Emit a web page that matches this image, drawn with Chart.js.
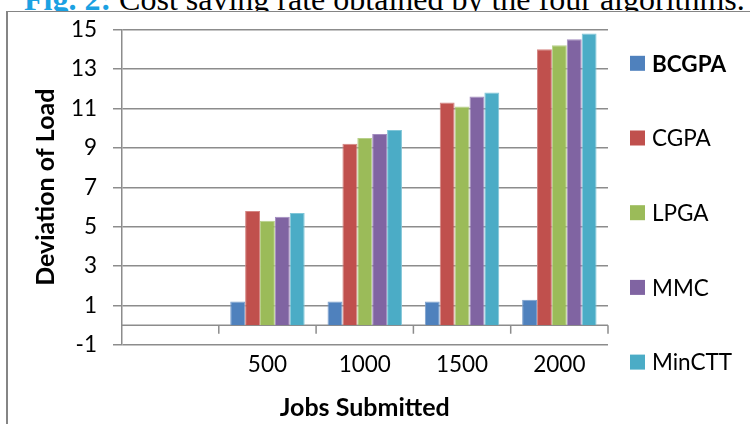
<!DOCTYPE html>
<html>
<head>
<meta charset="utf-8">
<script src="https://cdn.jsdelivr.net/npm/chart.js@4.4.1/dist/chart.umd.min.js"></script>
<style>
  html, body { margin: 0; padding: 0; background: #fff; }
  #wrap { position: relative; width: 750px; height: 424px; overflow: hidden; }
  #caption {
    position: absolute; left: 24px; top: -17.3px; z-index: 0;
    font-family: "Liberation Serif", "Times New Roman", serif; font-size: 32px;
    line-height: 32px; white-space: nowrap; color: #000;
  }
  #caption b { color: #1ba1e2; }
  #frame {
    position: absolute; left: 6px; top: 11px; width: 800px; height: 500px; z-index: 1;
    border-left: 2px solid #858585; border-top: 1.5px solid #858585; background: #fff;
  }
  #chart { position: absolute; left: 0; top: 0; z-index: 2; }
</style>
</head>
<body>
<div id="wrap">
  <div id="caption"><b>Fig. 2:</b> Cost saving rate obtained by the four algorithms.</div>
  <div id="frame"></div>
  <canvas id="chart" width="750" height="424"></canvas>
</div>
<script>
// Jobs submitted (first slot is an empty category)
const categories = ['', '500', '1000', '1500', '2000'];

// Deviation of load per algorithm
const seriesNames = ['BCGPA', 'CGPA', 'LPGA', 'MMC', 'MinCTT'];
const BCGPA  = [null, 1.2, 1.2, 1.2, 1.3];
const CGPA   = [null, 5.8, 9.2, 11.3, 14.0];
const LPGA   = [null, 5.3, 9.5, 11.1, 14.2];
const MMC    = [null, 5.5, 9.7, 11.6, 14.5];
const MinCTT = [null, 5.7, 9.9, 11.8, 14.8];

const yTicks = [-1, 1, 3, 5, 7, 9, 11, 13, 15];

const seriesColors = ['#4f81bd', '#c0504d', '#9bbb59', '#8064a2', '#4bacc6'];
const seriesEdges  = ['#7c9fcc', '#d48582', '#b7d08a', '#a38cc0', '#80c6d8'];
const seriesValues = [BCGPA, CGPA, LPGA, MMC, MinCTT];

const GRID = '#8c8c8c';
const FONT = 'Lato';

// Category axis drawn along y = 0, with tick marks at the category boundaries
const zeroAxis = {
  id: 'zeroAxis',
  beforeDatasetsDraw(chart) {
    const { ctx, chartArea, scales: { x, y } } = chart;
    const y0 = y.getPixelForValue(0);
    const half = (x.getPixelForValue(1) - x.getPixelForValue(0)) / 2;
    ctx.save();
    ctx.strokeStyle = GRID;
    ctx.lineWidth = 1.5;
    ctx.beginPath();
    ctx.moveTo(chartArea.left, y0);
    ctx.lineTo(chartArea.right, y0);
    for (let i = 0; i < categories.length; i++) {
      const bx = x.getPixelForValue(i) + half;
      ctx.moveTo(bx, y0);
      ctx.lineTo(bx, y0 + 8.5);
    }
    ctx.stroke();
    ctx.restore();
  }
};

// Vertical legend at the right, first entry in bold
const sideLegend = {
  id: 'sideLegend',
  afterDraw(chart) {
    const { ctx, chartArea } = chart;
    const x0 = chartArea.right + 22;
    ctx.save();
    ctx.textBaseline = 'middle';
    ctx.textAlign = 'left';
    seriesNames.forEach((name, i) => {
      const cy = 63.3 + i * 74.7;
      ctx.fillStyle = seriesColors[i];
      ctx.fillRect(x0, cy - 7.5, 15, 15);
      ctx.fillStyle = '#000';
      ctx.font = (i === 0 ? 'bold ' : '') + '22.5px ' + FONT;
      ctx.fillText(name, x0 + 22, cy + 1);
    });
    ctx.restore();
  }
};

new Chart(document.getElementById('chart'), {
  type: 'bar',
  data: {
    labels: categories,
    datasets: seriesNames.map((name, i) => ({
      label: name,
      data: seriesValues[i],
      backgroundColor: seriesColors[i],
      borderColor: seriesEdges[i],
      borderWidth: 1,
      categoryPercentage: 0.765,
      barPercentage: 1.0
    }))
  },
  options: {
    responsive: false,
    animation: false,
    devicePixelRatio: 1,
    layout: { padding: { left: 10, right: 142, top: 27.5, bottom: 1 } },
    plugins: { legend: { display: false }, tooltip: { enabled: false } },
    scales: {
      x: {
        grid: { display: false, drawTicks: false },
        border: { display: false },
        ticks: { font: { family: FONT, size: 22.5 }, color: '#000', padding: 6.5, maxRotation: 0 },
        title: {
          display: true, text: 'Jobs Submitted', color: '#000',
          font: { family: FONT, size: 25, weight: 'bold' }, padding: { top: 0, bottom: 0 }
        },
        afterFit: s => { s.height = 78; }
      },
      y: {
        min: -1, max: 15,
        afterBuildTicks: s => { s.ticks = yTicks.map(v => ({ value: v })); },
        grid: { color: GRID, lineWidth: 1.5, tickLength: 8.5, drawTicks: true },
        border: { display: true, color: GRID, width: 1.5 },
        ticks: { font: { family: FONT, size: 22.5 }, color: '#000', padding: 16 },
        title: {
          display: true, text: 'Deviation of Load', color: '#000',
          font: { family: FONT, size: 25, weight: 'bold' }, padding: { top: 21, bottom: 0 }
        },
        afterFit: s => { s.width = 111.5; }
      }
    }
  },
  plugins: [zeroAxis, sideLegend]
});
</script>
</body>
</html>
